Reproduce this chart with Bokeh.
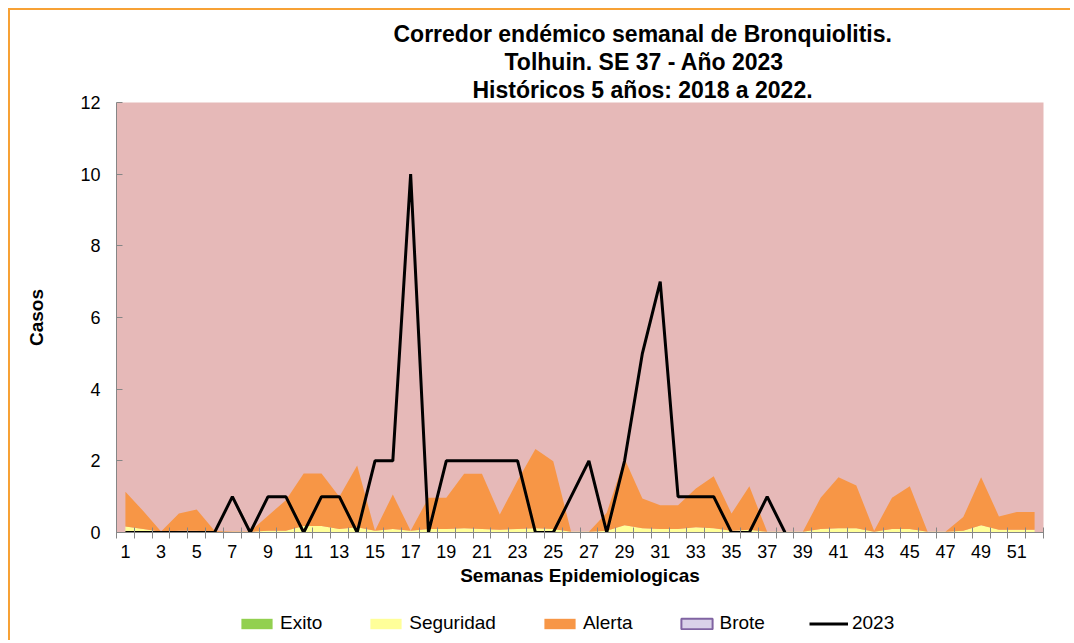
import numpy as np
from bokeh.plotting import figure
from bokeh.models import (ColumnDataSource, Range1d, FixedTicker, Legend,
                          LegendItem, Title)
from bokeh.layouts import column
from bokeh.embed import file_html
from bokeh.resources import INLINE

# ---------------- data ----------------
semanas = list(range(1, 53))
x_tick_labels = list(range(1, 53, 2))
y_ticks = [0, 2, 4, 6, 8, 10, 12]

# upper limit of each zone (historical corridor, 2018-2022)
exito = [0.0] * 52
seguridad = [0.17, 0.10, 0.02, 0.05, 0.05, 0.02, 0.02, 0.02, 0.05, 0.05,
             0.18, 0.18, 0.10, 0.15, 0.05, 0.10, 0.05, 0.10, 0.10, 0.12,
             0.10, 0.08, 0.10, 0.12, 0.10, 0.02, 0.02, 0.05, 0.20, 0.12,
             0.10, 0.10, 0.15, 0.12, 0.05, 0.08, 0.02, 0.02, 0.02, 0.10,
             0.12, 0.12, 0.02, 0.10, 0.10, 0.02, 0.02, 0.05, 0.20, 0.08,
             0.08, 0.08]
alerta = [1.14, 0.60, 0.03, 0.53, 0.64, 0.05, 0.03, 0.03, 0.47, 0.90,
          1.65, 1.65, 1.00, 1.87, 0.05, 1.06, 0.05, 0.97, 0.97, 1.64,
          1.64, 0.50, 1.45, 2.33, 1.99, 0.02, 0.02, 0.55, 2.06, 0.95,
          0.76, 0.76, 1.23, 1.57, 0.53, 1.29, 0.02, 0.02, 0.02, 0.97,
          1.54, 1.31, 0.05, 0.97, 1.29, 0.02, 0.02, 0.43, 1.54, 0.45,
          0.57, 0.57]

semanas_2023 = list(range(1, 39))
casos_2023 = [0, 0, 0, 0, 0, 0, 1, 0, 1, 1,
              0, 1, 1, 0, 2, 2, 10, 0, 2, 2,
              2, 2, 2, 0, 0, 1, 2, 0, 2, 5,
              7, 1, 1, 1, 0, 0, 1, 0]

titulo = ["Corredor endémico semanal de Bronquiolitis.",
          "Tolhuin. SE 37 - Año 2023",
          "Históricos 5 años: 2018 a 2022."]
titulo_offset = [277, 388, 356]

series = ["Exito", "Seguridad", "Alerta", "Brote", "2023"]
colores = {"Exito": "#92D050", "Seguridad": "#FFFF99", "Alerta": "#F79646",
           "Brote": "#D9D2E9"}

FONT = "Liberation Sans"
GRAY = "#868686"

# ---------------- main figure ----------------
p = figure(width=1060, height=580, title=None,
           x_range=Range1d(0.5, 52.5), y_range=Range1d(0, 12),
           output_backend="svg", toolbar_location=None,
           min_border_left=106, min_border_top=92,
           min_border_right=27, min_border_bottom=58,
           background_fill_color="#E6B9B8", border_fill_color="white",
           outline_line_color=None)
p.xgrid.visible = False
p.ygrid.visible = False

src = ColumnDataSource(dict(x=semanas, e=exito, s=seguridad, a=alerta))
p.varea(x="x", y1=0, y2="e", source=src, fill_color=colores["Exito"])
p.varea(x="x", y1="e", y2="s", source=src, fill_color=colores["Seguridad"])
p.varea(x="x", y1="s", y2="a", source=src, fill_color=colores["Alerta"])
p.line(semanas_2023, casos_2023, line_color="black", line_width=3)

xa = p.xaxis[0]
xa.ticker = FixedTicker(ticks=x_tick_labels,
                        minor_ticks=[s - 0.5 for s in semanas] + [52.5])
xa.major_tick_in = 0
xa.major_tick_out = 0
xa.minor_tick_in = 5
xa.minor_tick_out = 6
xa.minor_tick_line_color = GRAY
xa.axis_line_color = GRAY
xa.major_label_text_font = FONT
xa.major_label_text_font_size = "18px"
xa.major_label_text_color = "black"
xa.major_label_standoff = 6
xa.axis_label = "Semanas Epidemiologicas"
xa.axis_label_text_font = FONT
xa.axis_label_text_font_size = "19px"
xa.axis_label_text_font_style = "bold"
xa.axis_label_text_color = "black"
xa.axis_label_standoff = 4

ya = p.yaxis[0]
ya.ticker = FixedTicker(ticks=y_ticks)
ya.major_tick_in = 6
ya.major_tick_out = 0
ya.minor_tick_in = 0
ya.minor_tick_out = 0
ya.major_tick_line_color = GRAY
ya.axis_line_color = GRAY
ya.major_label_text_font = FONT
ya.major_label_text_font_size = "18px"
ya.major_label_text_color = "black"
ya.major_label_standoff = 16
ya.axis_label = "Casos"
ya.axis_label_text_font = FONT
ya.axis_label_text_font_size = "19px"
ya.axis_label_text_font_style = "bold"
ya.axis_label_text_color = "black"
ya.axis_label_standoff = 30

for t, off in reversed(list(zip(titulo, titulo_offset))):
    p.add_layout(Title(text=t, align="left", offset=off, standoff=0,
                       text_font=FONT, text_font_size="23px",
                       text_font_style="bold", text_color="black"), "above")

# ---------------- legend strip ----------------
# the same series are drawn here outside the visible range, only so that
# the legend of this strip has glyphs to show
lf = figure(width=1060, height=50, title=None,
            x_range=Range1d(0.5, 52.5), y_range=Range1d(50, 51),
            x_axis_location=None, y_axis_location=None,
            output_backend="svg", toolbar_location=None,
            min_border=0, outline_line_color=None,
            background_fill_color="white", border_fill_color="white")
lf.xgrid.visible = False
lf.ygrid.visible = False
lsrc = ColumnDataSource(dict(x=semanas, e=exito, s=seguridad, a=alerta))
swatches = [
    lf.varea(x="x", y1=0, y2="e", source=lsrc, fill_color=colores["Exito"]),
    lf.varea(x="x", y1="e", y2="s", source=lsrc, fill_color=colores["Seguridad"]),
    lf.varea(x="x", y1="s", y2="a", source=lsrc, fill_color=colores["Alerta"]),
    lf.quad(left="x", right="x", bottom="a", top="a", source=lsrc,
            fill_color=colores["Brote"], line_color="#8064A2", line_width=2),
    lf.line(semanas_2023, casos_2023, line_color="black", line_width=3),
]

legend = Legend(items=[LegendItem(label=n, renderers=[r])
                       for n, r in zip(series, swatches)],
                location=(117, 2), orientation="horizontal",
                glyph_width=39, glyph_height=13, label_standoff=4,
                spacing=44, padding=4, margin=0, label_height=20,
                border_line_alpha=0, background_fill_alpha=0,
                label_text_font=FONT, label_text_font_size="19px",
                label_text_color="black")
lf.add_layout(legend, "center")

layout = column(p, lf, spacing=0,
                styles={"margin-left": "8px", "margin-top": "8px",
                        "border-left": "2px solid #F7A135",
                        "border-top": "2px solid #F7A135"})

open("out.html", "w").write(file_html(layout, INLINE))
